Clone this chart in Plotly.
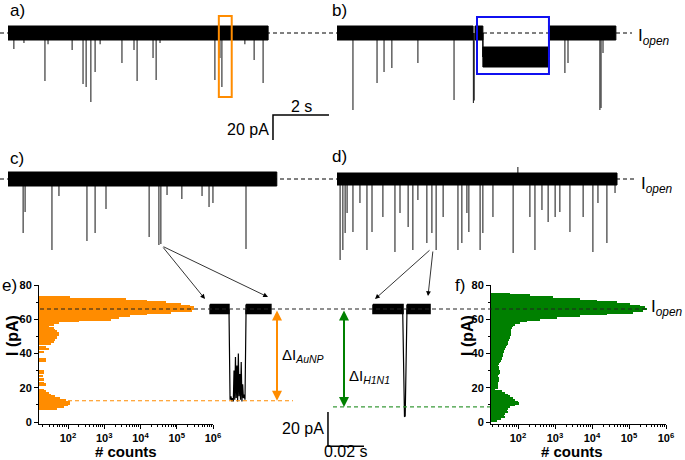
import plotly.graph_objects as go

W, H = 685, 460

# ------------------------------------------------------------------ data
I_OPEN = 66.0            # open-pore current, pA
TRACE_NOISE = 5.6        # half width of the open-pore noise band, pA

# panel a : AuNP translocations (time s, minimum current pA)
A_DURATION = 9.29
A_EVENT_T = [0.21, 0.57, 1.32, 1.43, 2.29, 2.68, 2.79, 2.96, 3.11, 3.29, 4.07, 4.50,
             4.61, 5.18, 5.29, 5.43, 7.39, 7.57, 7.64, 8.46, 8.79, 9.11]
A_EVENT_I = [53.2, 58.0, 27.6, 57.0, 52.4, 25.2, 22.8, 10.8, 34.8, 57.0, 42.0, 52.4,
             27.6, 46.0, 28.4, 58.0, 28.4, 46.0, 22.8, 57.0, 44.4, 26.0]

# panel b : long AuNP blockade
B_OPEN_SEGMENTS = [(0.0, 4.86), (4.93, 5.21), (7.57, 9.96)]
B_LOW_SEGMENT = (5.21, 7.57)
B_LOW_I = 46.8
B_LOW_NOISE = 8.0
B_EVENT_T = [0.57, 1.43, 1.68, 1.96, 2.89, 4.18, 4.87, 4.90, 8.14, 8.25, 9.39, 9.43, 9.50]
B_EVENT_I = [4.4, 26.0, 34.8, 38.0, 42.0, 12.4, 10.0, 12.0, 34.0, 42.0, 4.4, 6.0, 50.0]

# panel c : AuNP-H1N1
C_DURATION = 9.6
C_EVENT_T = [0.54, 0.61, 1.57, 1.82, 2.82, 3.11, 3.50, 5.04, 5.39, 5.46, 5.68, 6.21,
             6.93, 7.18, 7.32, 8.50]
C_EVENT_I = [22.8, 39.6, 9.2, 52.4, 16.4, 22.8, 42.0, 19.6, 13.2, 14.0, 53.2, 50.0,
             52.4, 43.6, 46.8, 10.0]

# panel d : H1N1
D_DURATION = 10.0
D_EVENT_T = [0.11, 0.21, 0.29, 0.36, 0.57, 0.82, 1.07, 1.25, 1.64, 2.07, 2.25, 2.54,
             2.71, 2.89, 3.21, 3.39, 3.54, 3.79, 4.32, 4.46, 4.64, 4.71, 5.11, 5.21,
             5.57, 6.29, 6.89, 7.07, 7.32, 7.54, 7.79, 7.96, 8.32, 8.79, 9.14, 9.32,
             9.64, 9.93]
D_EVENT_I = [1.2, 9.2, 22.8, 38.8, 23.6, 46.8, 9.2, 23.6, 35.6, 7.6, 38.8, 27.6,
             9.2, 49.2, 14.8, 22.8, 9.2, 35.6, 9.2, 14.8, 38.8, 23.6, 9.2, 22.8,
             35.6, 6.8, 35.6, 9.2, 41.2, 31.6, 35.6, 39.6, 23.6, 35.6, 7.6, 46.8,
             14.8, 54.8]
D_UP_T = [6.46]
D_UP_I = [75.6]

# histograms (current bin centre pA, counts)
E_BINS = list(range(8, 74))
E_COUNTS = [50, 80, 100, 110, 110, 90, 60, 45, 35, 30, 25, 22, 0, 0, 25, 22, 0, 22,
            0, 20, 0, 22, 22, 0, 0, 0, 0, 0, 25, 25, 0, 0, 0, 22, 0, 30, 25, 0, 35,
            40, 45, 50, 50, 55, 55, 50, 45, 40, 30, 40, 55, 200, 1500, 2500, 5000,
            15000, 70000, 260000, 300000, 290000, 230000, 130000, 50000, 15000, 4000, 110]
F_BINS = list(range(1, 76))
F_COUNTS = [27, 35, 45, 42, 45, 54, 50, 54, 60, 83, 107, 100, 83, 72, 60, 54, 45, 37,
            24, 28, 29, 29, 29, 30, 30, 30, 29, 30, 32, 32, 31, 30, 29, 30, 32, 34,
            37, 38, 40, 40, 42, 43, 45, 46, 50, 52, 54, 56, 60, 60, 65, 63, 65, 66,
            69, 72, 83, 110, 180, 400, 1100, 4700, 25000, 126000, 240000, 310000,
            270000, 200000, 107000, 48000, 13500, 4700, 900, 210, 60]
HIST_TICKS = [1e2, 1e3, 1e4, 1e5, 1e6]
HIST_TICK_TEXT = ["10<sup>2</sup>", "10<sup>3</sup>", "10<sup>4</sup>",
                  "10<sup>5</sup>", "10<sup>6</sup>"]

# zoomed single events (time ms, current pA)
EVENT_NOISE = 2.6
AUNP_LEVEL = 12.4
H1N1_LEVEL = 8.8
AUNP_OPEN_SEGMENTS = [(5.6, 16.1), (25.6, 39.4)]
AUNP_BLOCK_T = [16.1, 16.7, 17.2, 17.7, 18.1, 18.5, 18.9, 19.3, 19.7, 20.1, 20.5, 20.9,
                21.3, 21.7, 22.1, 22.5, 22.9, 23.3, 23.7, 24.1, 24.5, 25.0, 25.6]
AUNP_BLOCK_I = [66, 13, 15, 12, 14, 12, 30, 13, 38, 14, 33, 12, 40, 15, 28, 13, 35, 12,
                22, 14, 16, 13, 66]
H1N1_OPEN_SEGMENTS = [(96.1, 112.8), (115.0, 127.8)]
H1N1_BLOCK_T = [112.6, 113.6, 114.0, 115.0]
H1N1_BLOCK_I = [66, 3.0, 3.5, 66]

SCALE_T_S = 2.0      # s
SCALE_I_PA = 20.0    # pA
SCALE_T_MS = 20.0    # ms

ORANGE = "#FF8C00"
GREEN = "#008000"
BLUE = "#1010F0"
FONT = "Liberation Sans, Arial, sans-serif"

# ------------------------------------------------------------------ helpers
def dx(a, b):
    return [a / W, b / W]


def dy(top, bottom):
    return [1 - bottom / H, 1 - top / H]


def band(segments, level, noise):
    x, y = [], []
    for t0, t1 in segments:
        x += [t0, t1, t1, t0, t0, None]
        y += [level + noise, level + noise, level - noise, level - noise, level + noise, None]
    return x, y


def spikes(ts, vals, top):
    x, y = [], []
    for t, v in zip(ts, vals):
        x += [t, t, None]
        y += [top, v, None]
    return x, y


fig = go.Figure()


def add_band(segments, level, noise, xa, ya, lw=1.0):
    bx, by = band(segments, level, noise)
    fig.add_trace(go.Scatter(x=bx, y=by, mode="lines", fill="toself", fillcolor="black",
                             line=dict(color="black", width=lw), xaxis=xa, yaxis=ya,
                             hoverinfo="skip"))


def add_spikes(ts, vals, top, xa, ya, width=1.0):
    sx, sy = spikes(ts, vals, top)
    fig.add_trace(go.Scatter(x=sx, y=sy, mode="lines", line=dict(color="#111", width=width),
                             xaxis=xa, yaxis=ya, hoverinfo="skip"))


# ------------------------------------------------------------------ traces a-d
add_spikes(A_EVENT_T, A_EVENT_I, I_OPEN, "x", "y")
add_band([(0, A_DURATION)], I_OPEN, TRACE_NOISE, "x", "y")

add_spikes(B_EVENT_T, B_EVENT_I, I_OPEN, "x2", "y")
add_band(B_OPEN_SEGMENTS, I_OPEN, TRACE_NOISE, "x2", "y")
add_band([B_LOW_SEGMENT], B_LOW_I, B_LOW_NOISE, "x2", "y")
fig.add_trace(go.Scatter(x=[B_LOW_SEGMENT[0], B_LOW_SEGMENT[0], None, B_LOW_SEGMENT[1], B_LOW_SEGMENT[1]],
                         y=[I_OPEN, B_LOW_I, None, B_LOW_I, I_OPEN], mode="lines",
                         line=dict(color="black", width=1.5), xaxis="x2", yaxis="y"))

add_spikes(C_EVENT_T, C_EVENT_I, I_OPEN, "x", "y2")
add_band([(0, C_DURATION)], I_OPEN, TRACE_NOISE, "x", "y2")

add_spikes(D_EVENT_T, D_EVENT_I, I_OPEN, "x2", "y2")
add_spikes(D_UP_T, D_UP_I, I_OPEN, "x2", "y2")
add_band([(0, D_DURATION)], I_OPEN, TRACE_NOISE - 0.8, "x2", "y2")

# scale bar for a-d
T0 = 9.464
I0 = 0.4
fig.add_trace(go.Scatter(x=[T0, T0, T0 + SCALE_T_S], y=[I0 - SCALE_I_PA, I0, I0], mode="lines",
                         line=dict(color="black", width=1.5), xaxis="x", yaxis="y"))

# ------------------------------------------------------------------ histograms
def nz(v):
    return [c if c > 0 else None for c in v]


fig.add_trace(go.Bar(x=nz(E_COUNTS), y=E_BINS, orientation="h", width=1.0,
                     marker=dict(color=ORANGE, line=dict(width=0)), xaxis="x3", yaxis="y3"))
fig.add_trace(go.Bar(x=nz(F_COUNTS), y=F_BINS, orientation="h", width=1.0,
                     marker=dict(color=GREEN, line=dict(width=0)), xaxis="x4", yaxis="y4"))

# ------------------------------------------------------------------ zoomed events
add_band(AUNP_OPEN_SEGMENTS, I_OPEN, EVENT_NOISE, "x5", "y5", lw=1.5)
fig.add_trace(go.Scatter(x=AUNP_BLOCK_T, y=AUNP_BLOCK_I, mode="lines",
                         line=dict(color="black", width=1.2), xaxis="x5", yaxis="y5"))
add_band(H1N1_OPEN_SEGMENTS, I_OPEN, EVENT_NOISE, "x5", "y5", lw=1.5)
fig.add_trace(go.Scatter(x=H1N1_BLOCK_T, y=H1N1_BLOCK_I, mode="lines",
                         line=dict(color="black", width=1.2), xaxis="x5", yaxis="y5"))

TE0 = 71.1
IE0 = 5.8
fig.add_trace(go.Scatter(x=[TE0, TE0, TE0 + SCALE_T_MS], y=[IE0, IE0 - SCALE_I_PA, IE0 - SCALE_I_PA],
                         mode="lines", line=dict(color="black", width=1.5), xaxis="x5", yaxis="y5"))

# ------------------------------------------------------------------ axes
DT = 2.0 / 56.0       # s per pixel in traces a-d
PA = 1.25             # pixel per pA in traces a-d
DTE = 20.0 / 36.0     # ms per pixel in zoomed events
PH = 1.7125           # pixel per pA in histogram row

hidden = dict(visible=False, fixedrange=True)
tickfont = dict(family=FONT, size=11, color="black", weight="bold")


def hist_x(dom, rng):
    return dict(domain=dom, type="log", range=rng, showline=True, linecolor="black",
                linewidth=1, ticks="outside", ticklen=4, tickcolor="black",
                tickvals=HIST_TICKS, ticktext=HIST_TICK_TEXT, tickfont=tickfont,
                showgrid=False, zeroline=False,
                minor=dict(ticks="outside", ticklen=2, tickcolor="black", dtick="D1",
                           showgrid=False))


def hist_y(dom, anchor):
    return dict(domain=dom, range=[-2 / PH, 80], showline=True, linecolor="black",
                linewidth=1, ticks="outside", ticklen=4, tickcolor="black",
                tickvals=[0, 20, 40, 60, 80], tickfont=tickfont, showgrid=False,
                zeroline=False, anchor=anchor,
                minor=dict(ticks="outside", ticklen=2, tickcolor="black", dtick=10,
                           showgrid=False))


fig.update_layout(
    width=W, height=H, margin=dict(l=0, r=0, t=0, b=0, autoexpand=False),
    paper_bgcolor="white", plot_bgcolor="rgba(0,0,0,0)", showlegend=False,
    bargap=0, font=dict(family=FONT, color="black"),
    xaxis=dict(domain=dx(8, 335), range=[0, 327 * DT], anchor="y", **hidden),
    xaxis2=dict(domain=dx(337, 685), range=[0, 348 * DT], anchor="y", **hidden),
    yaxis=dict(domain=dy(0, 145), range=[I_OPEN - (145 - 33) / PA, I_OPEN + 33 / PA],
               anchor="x", **hidden),
    yaxis2=dict(domain=dy(145, 275), range=[I_OPEN - (275 - 179) / PA, I_OPEN + (179 - 145) / PA],
                anchor="x", **hidden),
    xaxis3=dict(anchor="y3", **hist_x(dx(39, 213), [1.2, 6])),
    yaxis3=hist_y(dy(285, 424), "x3"),
    xaxis4=dict(anchor="y4", **hist_x(dx(491, 666), [1.27, 6])),
    yaxis4=hist_y(dy(285, 424), "x4"),
    xaxis5=dict(domain=dx(150, 480), range=[-50 * DTE, 280 * DTE], anchor="y5", **hidden),
    yaxis5=dict(domain=dy(240, 460), range=[-(460 - 422) / PH, (422 - 240) / PH],
                anchor="x5", **hidden),
)

# ------------------------------------------------------------------ shapes
dash = "4px,3px"
shapes = [
    dict(type="line", xref="paper", yref="y", x0=0, x1=632 / W, y0=I_OPEN, y1=I_OPEN,
         line=dict(color="black", width=1, dash=dash), layer="below"),
    dict(type="line", xref="paper", yref="y2", x0=0, x1=636 / W, y0=I_OPEN, y1=I_OPEN,
         line=dict(color="black", width=1, dash=dash), layer="below"),
    dict(type="line", xref="paper", yref="y3", x0=40 / W, x1=648 / W, y0=I_OPEN, y1=I_OPEN,
         line=dict(color="#222", width=1.2, dash=dash), layer="above"),
    dict(type="line", xref="paper", yref="y3", x0=40 / W, x1=293 / W, y0=AUNP_LEVEL, y1=AUNP_LEVEL,
         line=dict(color=ORANGE, width=1.2, dash=dash), layer="above"),
    dict(type="line", xref="paper", yref="y3", x0=333 / W, x1=490 / W, y0=H1N1_LEVEL, y1=H1N1_LEVEL,
         line=dict(color="#3a9a3a", width=1.2, dash=dash), layer="above"),
    dict(type="rect", xref="x", yref="y", x0=7.53, x1=7.99, y0=14.8, y1=79.6,
         line=dict(color=ORANGE, width=2)),
    dict(type="rect", xref="x2", yref="y", x0=5.0, x1=7.57, y0=33.2, y1=78.8,
         line=dict(color=BLUE, width=2)),
]
fig.update_layout(shapes=shapes)

# ------------------------------------------------------------------ annotations
ann = []


def text(t, x, y, size=16, xanchor="center", yanchor="middle", angle=0, bold=False):
    ann.append(dict(text=t, x=x / W, y=1 - y / H, xref="paper", yref="paper", showarrow=False,
                    xanchor=xanchor, yanchor=yanchor, textangle=angle,
                    font=dict(family=FONT, size=size, color="black",
                              weight="bold" if bold else "normal")))


text("a)", 8, 11, 17, "left")
text("b)", 330, 11, 17, "left")
text("c)", 8, 158, 17, "left")
text("d)", 330, 157, 17, "left")
text("e)", 0, 285, 17, "left")
text("f)", 453, 285, 17, "left")

text("I<sub><i>open</i></sub>", 636, 37, 17, "left")
text("I<sub><i>open</i></sub>", 639, 185, 17, "left")
text("I<sub><i>open</i></sub>", 649, 308, 17, "left")

text("2 s", 301, 106, 16)
text("20 pA", 271, 129, 16, "right")
text("20 pA", 326, 428, 16, "right")
text("0.02 s", 346, 451, 16)

text("ΔI<sub><i>AuNP</i></sub>", 280, 355, 15, "left")
text("ΔI<sub><i>H1N1</i></sub>", 347, 376, 15, "left")

text("I (pA)", 12, 336, 16, angle=-90, bold=True)
text("# counts", 126, 451, 15, bold=True)
text("I (pA)", 467, 336, 16, angle=-90, bold=True)
text("# counts", 572, 451, 15, bold=True)

# pointer arrows from traces c/d to the zoomed events
for (tx, ty, hx, hy) in [(162, 246, 205, 299), (162, 246, 268, 297),
                         (431, 249, 375, 299), (433, 250, 428, 296)]:
    ann.append(dict(x=hx / W, y=1 - hy / H, xref="paper", yref="paper", text="",
                    showarrow=True, axref="pixel", ayref="pixel", ax=tx - hx, ay=ty - hy,
                    arrowhead=2, arrowsize=1.2, arrowwidth=0.8, arrowcolor="black", standoff=0))

# delta-I double arrows
for (t, lvl, col) in [((277 - 200) * DTE, AUNP_LEVEL, ORANGE), ((344 - 200) * DTE, H1N1_LEVEL, GREEN)]:
    ann.append(dict(x=t, y=lvl, xref="x5", yref="y5", ax=t, ay=I_OPEN, axref="x5", ayref="y5",
                    text="", showarrow=True, arrowside="end+start", arrowhead=2,
                    startarrowhead=2, arrowsize=1, startarrowsize=1, arrowwidth=2,
                    arrowcolor=col, standoff=0, startstandoff=0))

fig.update_layout(annotations=ann)

fig.write_html("out.html", config={"displayModeBar": False},
               post_script="document.body.style.margin='0';")
